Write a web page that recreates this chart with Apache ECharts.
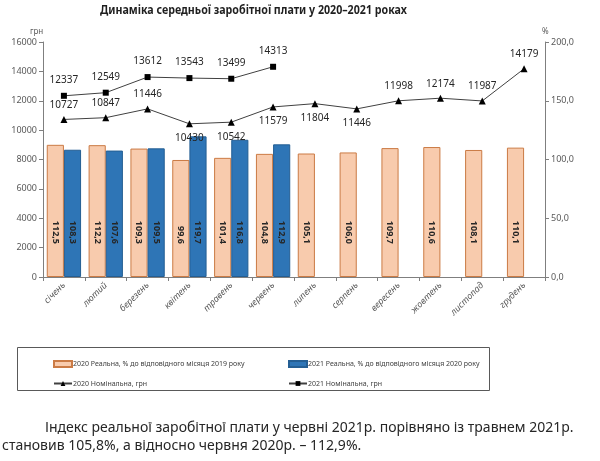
<!DOCTYPE html>
<html>
<head>
<meta charset="utf-8">
<script src="https://cdn.jsdelivr.net/npm/echarts@6/dist/echarts.min.js"></script>
<style>
  html, body { margin: 0; padding: 0; background: #fff; }
  #chart { width: 600px; height: 461px; }
</style>
</head>
<body>
<div id="chart"></div>
<script>
const months = ['січень', 'лютий', 'березень', 'квітень', 'травень', 'червень',
  'липень', 'серпень', 'вересень', 'жовтень', 'листопад', 'грудень'];
const real2020 = [112.5, 112.2, 109.3, 99.6, 101.4, 104.8, 105.1, 106.0, 109.7, 110.6, 108.1, 110.1];
const real2021 = [108.3, 107.6, 109.5, 119.7, 116.8, 112.9, null, null, null, null, null, null];
const nominal2020 = [10727, 10847, 11446, 10430, 10542, 11579, 11804, 11446, 11998, 12174, 11987, 14179];
const nominal2021 = [12337, 12549, 13612, 13543, 13499, 14313, null, null, null, null, null, null];
const uahTicks = [0, 2000, 4000, 6000, 8000, 10000, 12000, 14000, 16000];
const pctTicks = [0, 50, 100, 150, 200];

const names = [
  '2020 Реальна, % до відповідного місяця 2019 року',
  '2021 Реальна, % до відповідного місяця 2020 року',
  '2020 Номінальна, грн',
  '2021 Номінальна, грн'
];

// 2020 nominal labels that sit under the point
const below2020 = [3, 4, 5, 6, 7];

const font = "'Noto Sans', sans-serif";
const axisGrey = '#7f7f7f';
const textGrey = '#595959';

const chart = echarts.init(document.getElementById('chart'));

const fmtPct = v => v.toFixed(1).replace('.', ',');

const barLabel = {
  show: true,
  position: 'insideBottom',
  distance: 33,
  rotate: -90,
  align: 'right',
  verticalAlign: 'middle',
  fontSize: 9,
  fontWeight: 'bold',
  fontFamily: font,
  color: '#262626',
  formatter: p => fmtPct(p.value)
};

const option = {
  animation: false,
  textStyle: { fontFamily: font },
  grid: { left: 43, right: 55, top: 42, bottom: 184 },
  xAxis: {
    type: 'category',
    data: months,
    axisLine: { lineStyle: { color: axisGrey } },
    axisTick: { show: true, length: 4, lineStyle: { color: axisGrey } },
    axisLabel: {
      rotate: 45,
      fontSize: 9,
      fontStyle: 'italic',
      color: textGrey,
      margin: 7
    }
  },
  yAxis: [
    {
      type: 'value',
      min: uahTicks[0],
      max: uahTicks[uahTicks.length - 1],
      interval: 2000,
      axisLine: { show: true, lineStyle: { color: axisGrey } },
      axisTick: { show: true, length: 4, lineStyle: { color: axisGrey } },
      splitLine: { show: false },
      axisLabel: { fontSize: 9, color: textGrey, margin: 6, formatter: v => String(v) }
    },
    {
      type: 'value',
      min: pctTicks[0],
      max: pctTicks[pctTicks.length - 1],
      interval: 50,
      position: 'right',
      axisLine: { show: true, lineStyle: { color: axisGrey } },
      axisTick: { show: true, length: 4, lineStyle: { color: axisGrey } },
      splitLine: { show: false },
      axisLabel: { fontSize: 9, color: textGrey, margin: 6, formatter: fmtPct }
    }
  ],
  legend: [
    {
      orient: 'vertical',
      left: 48,
      top: 355,
      itemGap: 12,
      itemWidth: 18,
      itemHeight: 6,
      textStyle: { fontSize: 7, color: '#404040', padding: [0, 0, 0, -4] },
      data: [{ name: names[0], icon: 'rect' }, names[2]]
    },
    {
      orient: 'vertical',
      left: 283,
      top: 355,
      itemGap: 12,
      itemWidth: 18,
      itemHeight: 6,
      textStyle: { fontSize: 7, color: '#404040', padding: [0, 0, 0, -4] },
      data: [{ name: names[1], icon: 'rect' }, names[3]]
    }
  ],
  series: [
    {
      name: names[0],
      type: 'bar',
      yAxisIndex: 1,
      data: real2020,
      barGap: '0%',
      barCategoryGap: '18%',
      itemStyle: { color: '#F8CBAD', borderColor: '#CB7B45', borderWidth: 1 },
      label: barLabel
    },
    {
      name: names[1],
      type: 'bar',
      yAxisIndex: 1,
      data: real2021,
      itemStyle: { color: '#2E75B6', borderColor: '#245E93', borderWidth: 1 },
      label: barLabel
    },
    {
      name: names[2],
      type: 'line',
      yAxisIndex: 0,
      z: 5,
      symbol: 'triangle',
      symbolSize: 7,
      data: nominal2020.map((v, i) => ({
        value: v,
        label: { position: below2020.includes(i) ? 'bottom' : 'top' }
      })),
      lineStyle: { color: '#404040', width: 1 },
      itemStyle: { color: '#000' },
      label: { show: true, fontSize: 10, color: '#262626', distance: 6 }
    },
    {
      name: names[3],
      type: 'line',
      yAxisIndex: 0,
      z: 5,
      symbol: 'rect',
      symbolSize: 6,
      data: nominal2021,
      lineStyle: { color: '#404040', width: 1 },
      itemStyle: { color: '#000' },
      label: { show: true, position: 'top', fontSize: 10, color: '#262626', distance: 8 }
    }
  ],
  graphic: [
    {
      type: 'text',
      x: 100,
      y: 4,
      scaleX: 0.82,
      style: {
        text: 'Динаміка середньої заробітної плати у 2020–2021 роках',
        fontSize: 13,
        fontWeight: 'bold',
        fontFamily: font,
        fill: '#1f1f1f'
      }
    },
    {
      type: 'text',
      left: 30,
      top: 28,
      style: { text: 'грн', fontSize: 8, fill: textGrey, fontFamily: font }
    },
    {
      type: 'text',
      left: 542,
      top: 28,
      style: { text: '%', fontSize: 8, fill: textGrey, fontFamily: font }
    },
    {
      type: 'rect',
      shape: { x: 17.5, y: 347.5, width: 472, height: 43 },
      style: { fill: 'none', stroke: '#595959', lineWidth: 1 }
    },
    {
      type: 'text',
      left: 45,
      top: 421,
      style: {
        text: 'Індекс реальної заробітної плати у червні 2021р. порівняно із травнем 2021р.',
        fontSize: 14,
        fontFamily: font,
        fill: '#262626'
      }
    },
    {
      type: 'text',
      left: 2,
      top: 439,
      style: {
        text: 'становив 105,8%, а відносно червня 2020р. – 112,9%.',
        fontSize: 14,
        fontFamily: font,
        fill: '#262626'
      }
    }
  ]
};

chart.setOption(option);
</script>
</body>
</html>
